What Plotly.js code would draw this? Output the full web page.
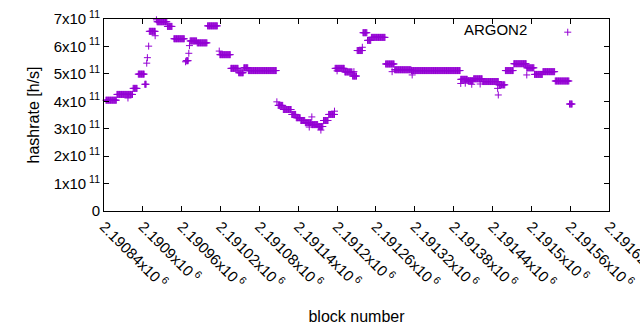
<!DOCTYPE html>
<html><head><meta charset="utf-8">
<script src="https://cdn.plot.ly/plotly-3.0.1.min.js"></script>
<style>html,body{margin:0;padding:0;background:#fff}</style>
</head><body><div id="chart" style="width:640px;height:330px"></div>
<script>
// Constant-hashrate runs: [first block, last block, hashrate (x1e11 h/s)]
const runStart = [2190843,2190860,2190885,2190893,2190903,2190910,2190922,2190938,2190948,2190967,2190973,2190984,2191000,2191019,2191036,2191048,2191056,2191063,2191109,2191117,2191130,2191137,2191144,2191151,2191161,2191171,2191179,2191187,2191197,2191212,2191224,2191231,2191240,2191247,2191253,2191275,2191289,2191315,2191391,2191402,2191411,2191425,2191450,2191460,2191473,2191493,2191505,2191518,2191537,2191559];
const runEnd   = [2190859,2190884,2190891,2190902,2190905,2190919,2190937,2190945,2190964,2190970,2190983,2190999,2191015,2191035,2191047,2191055,2191062,2191106,2191116,2191129,2191136,2191143,2191150,2191160,2191170,2191178,2191186,2191196,2191211,2191223,2191230,2191239,2191246,2191252,2191274,2191288,2191314,2191390,2191401,2191410,2191424,2191449,2191459,2191472,2191492,2191504,2191517,2191536,2191558,2191563];
const runRate  = [4.04,4.25,4.47,4.99,4.62,6.55,6.90,6.73,6.28,5.48,6.20,6.13,6.75,5.70,5.20,5.04,5.22,5.12,3.85,3.70,3.52,3.40,3.30,3.22,3.15,3.08,3.30,3.52,5.20,5.07,4.92,5.85,6.50,6.22,6.33,5.36,5.15,5.12,4.80,4.75,4.82,4.72,4.60,5.12,5.37,5.22,4.98,5.08,4.74,3.90];
// Isolated points
const singleBlock = [2190877,2190906,2190907,2190909,2190919,2190921,2190966,2190971,2190972,2191018,2191107,2191157,2191161,2191175,2191196,2191200,2191226,2191239,2191285,2191316,2191391,2191398,2191408,2191421,2191448,2191449,2191493];
const singleRate  = [4.12,5.39,5.59,6.01,6.39,6.97,5.44,5.75,6.03,5.83,3.98,3.06,3.43,2.95,3.64,5.11,5.08,5.97,5.08,4.96,4.65,4.66,4.62,4.63,4.47,4.23,4.96];

const xTickVals = [2190840,2190900,2190960,2191020,2191080,2191140,2191200,2191260,2191320,2191380,2191440,2191500,2191560,2191620];
const xTickText = ['2.19084x10<sup> 6</sup>','2.1909x10<sup> 6</sup>','2.19096x10<sup> 6</sup>','2.19102x10<sup> 6</sup>','2.19108x10<sup> 6</sup>','2.19114x10<sup> 6</sup>','2.1912x10<sup> 6</sup>','2.19126x10<sup> 6</sup>','2.19132x10<sup> 6</sup>','2.19138x10<sup> 6</sup>','2.19144x10<sup> 6</sup>','2.1915x10<sup> 6</sup>','2.19156x10<sup> 6</sup>','2.19162x10<sup> 6</sup>'];
const yTickVals = [0,1e11,2e11,3e11,4e11,5e11,6e11,7e11];
const yTickText = ['0','1x10<sup> 11</sup>','2x10<sup> 11</sup>','3x10<sup> 11</sup>','4x10<sup> 11</sup>','5x10<sup> 11</sup>','6x10<sup> 11</sup>','7x10<sup> 11</sup>'];

const xs = [], ys = [];
for (let i = 0; i < runStart.length; i++) {
  for (let b = runStart[i]; b <= runEnd[i]; b++) { xs.push(b); ys.push(runRate[i] * 1e11); }
}
for (let i = 0; i < singleBlock.length; i++) { xs.push(singleBlock[i]); ys.push(singleRate[i] * 1e11); }

const color = '#9400d3';
const font = {family: 'Liberation Sans, Arial, sans-serif', size: 15, color: '#000'};
const titleFont = {family: 'Liberation Sans, Arial, sans-serif', size: 16, color: '#000'};

const trace = {
  x: xs, y: ys, type: 'scatter', mode: 'markers', name: ' ',
  marker: {symbol: 'cross-thin-open', size: 5, color: color, line: {color: color, width: 1}},
  showlegend: true, cliponaxis: false
};

const layout = {
  width: 640, height: 330,
  margin: {l: 104, r: 31, t: 19, b: 119},
  paper_bgcolor: '#fff', plot_bgcolor: '#fff',
  font: font,
  showlegend: true,
  legend: {
    x: 0.978, xanchor: 'right', y: 1.016, yanchor: 'top',
    bgcolor: 'rgba(0,0,0,0)', borderwidth: 0,
    title: {text: 'ARGON2&nbsp;&nbsp;&nbsp;', side: 'left', font: font},
    font: font
  },
  xaxis: {
    range: [2190840, 2191620],
    tickmode: 'array', tickvals: xTickVals, ticktext: xTickText,
    tickangle: 45, ticks: 'inside', ticklen: 5, tickcolor: '#000',
    ticklabeloverflow: 'allow',
    showline: true, linecolor: '#000', linewidth: 1, mirror: 'ticks',
    showgrid: false, zeroline: false,
    tickfont: font,
    title: {text: 'block number', font: titleFont, standoff: 20}
  },
  yaxis: {
    range: [0, 7e11],
    tickmode: 'array', tickvals: yTickVals, ticktext: yTickText,
    ticks: 'inside', ticklen: 5, tickcolor: '#000',
    showline: true, linecolor: '#000', linewidth: 1, mirror: 'ticks',
    showgrid: false, zeroline: false,
    tickfont: font,
    title: {text: 'hashrate [h/s]', font: titleFont, standoff: 10}
  }
};

Plotly.newPlot('chart', [trace], layout, {displayModeBar: false, staticPlot: true});
</script>
</body></html>
